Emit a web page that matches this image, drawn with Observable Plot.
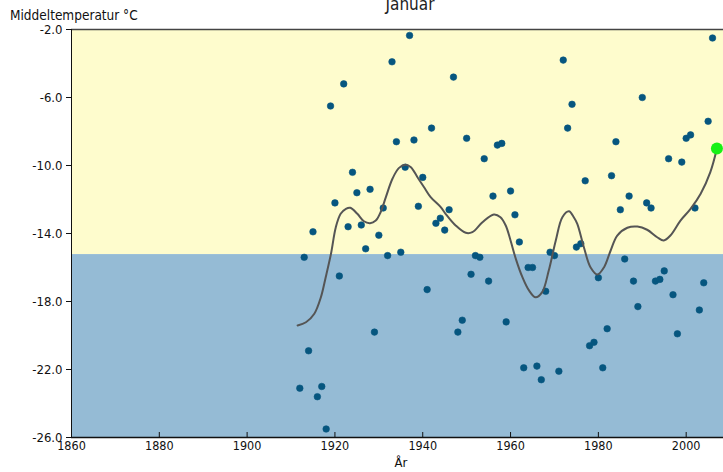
<!DOCTYPE html>
<html>
<head>
<meta charset="utf-8">
<script src="https://cdn.jsdelivr.net/npm/d3@7"></script>
<script src="https://cdn.jsdelivr.net/npm/@observablehq/plot@0.6"></script>
<style>
  html, body { margin: 0; padding: 0; background: #fff; }
  #wrap { position: relative; width: 723px; height: 472px; overflow: hidden; font-family: "DejaVu Sans Condensed", "DejaVu Sans", sans-serif; }
  #title { position: absolute; left: 0; width: 820px; text-align: center; top: -6px; font-size: 17px; color: #222; }
  #ylab { position: absolute; left: 10px; top: 7px; font-size: 13.5px; color: #111; }
  #xlab { position: absolute; left: 0; width: 802px; text-align: center; top: 455px; font-size: 13px; color: #111; }
  #chart { position: absolute; left: 0; top: 0; }
</style>
</head>
<body>
<div id="wrap">
  <div id="chart"></div>
  <div id="title">Januar</div>
  <div id="ylab">Middeltemperatur °C</div>
  <div id="xlab">År</div>
</div>
<script>
// Observed January mean temperatures
const years = [1912,1913,1914,1915,1916,1917,1918,1919,1920,1921,1922,1923,1924,1925,1926,1927,1928,1929,1930,1931,1932,1933,1934,1935,1936,1937,1938,1939,1940,1941,1942,1943,1944,1945,1946,1947,1948,1949,1950,1951,1952,1953,1954,1955,1956,1957,1958,1959,1960,1961,1962,1963,1964,1965,1966,1967,1968,1969,1970,1971,1972,1973,1974,1975,1976,1977,1978,1979,1980,1981,1982,1983,1984,1985,1986,1987,1988,1989,1990,1991,1992,1993,1994,1995,1996,1997,1998,1999,2000,2001,2002,2003,2004,2005,2006];
const temps = [-23.1,-15.4,-20.9,-13.9,-23.6,-23.0,-25.5,-6.5,-12.2,-16.5,-5.2,-13.6,-10.4,-11.6,-13.5,-14.9,-11.4,-19.8,-14.1,-12.5,-15.3,-3.9,-8.6,-15.1,-10.1,-2.35,-8.5,-12.4,-10.7,-17.3,-7.8,-13.4,-13.1,-13.8,-12.6,-4.8,-19.8,-19.1,-8.4,-16.4,-15.3,-15.4,-9.6,-16.8,-11.8,-8.8,-8.7,-19.2,-11.5,-12.9,-14.5,-21.9,-16.0,-16.0,-21.8,-22.6,-17.4,-15.1,-15.3,-22.1,-3.8,-7.8,-6.4,-14.8,-14.6,-10.9,-20.6,-20.4,-16.6,-21.9,-19.6,-10.6,-8.6,-12.6,-15.5,-11.8,-16.8,-18.3,-6.0,-12.2,-12.5,-16.8,-16.7,-16.2,-9.6,-17.6,-19.9,-9.8,-8.4,-8.2,-12.5,-18.5,-16.9,-7.4,-2.5];

// Smoothed curve
const smoothYears = [1911.5,1913.4,1915.3,1916.8,1917.9,1919.1,1920.2,1921.3,1922.5,1923.5,1925.1,1926.6,1928.0,1929.3,1930.4,1931.6,1933.1,1934.6,1936.1,1937.3,1938.8,1940.3,1941.8,1944.1,1945.2,1947.5,1949.8,1951.3,1953.6,1956.2,1957.7,1958.9,1960.0,1961.2,1962.7,1964.2,1965.7,1967.2,1968.7,1970.3,1971.8,1973.3,1974.4,1975.2,1976.7,1978.2,1979.8,1981.3,1982.8,1984.3,1986.6,1988.9,1991.1,1993.4,1994.9,1996.4,1998.7,2001.0,2003.3,2005.5,2007.0];
const smoothTemps = [-19.41,-19.22,-18.72,-17.75,-16.57,-15.19,-13.63,-12.84,-12.55,-12.49,-12.84,-13.28,-13.39,-13.24,-12.75,-11.86,-10.78,-10.14,-9.96,-10.10,-10.69,-11.28,-11.86,-12.45,-12.84,-13.53,-13.96,-13.92,-13.34,-12.88,-13.04,-13.53,-14.41,-15.49,-16.57,-17.35,-17.75,-17.45,-16.18,-14.41,-13.04,-12.69,-13.04,-13.43,-14.81,-15.98,-16.41,-15.98,-15.0,-14.12,-13.66,-13.59,-13.78,-14.22,-14.41,-14.12,-13.24,-12.55,-11.66,-10.39,-9.0];

// Latest value highlight
const latestYear = [2007];
const latestTemp = [-9.0];

// Reference level separating the two background bands
const normalLevel = [-15.24];

// Axis settings
const xDomain = [1860, 2008.5];
const yDomain = [-26, -2];
const xTicks = [1860, 1880, 1900, 1920, 1940, 1960, 1980, 2000];
const yTicks = [-26, -22, -18, -14, -10, -6, -2];

const obs = years.map((y, i) => ({year: y, temp: temps[i]}));
const smooth = smoothYears.map((y, i) => ({year: y, temp: smoothTemps[i]}));
const latest = latestYear.map((y, i) => ({year: y, temp: latestTemp[i]}));
const bands = [
  {x1: xDomain[0], x2: xDomain[1], y1: normalLevel[0], y2: yDomain[1], fill: "#fefccd"},
  {x1: xDomain[0], x2: xDomain[1], y1: yDomain[0], y2: normalLevel[0], fill: "#95bbd5"}
];

const chart = Plot.plot({
  width: 723,
  height: 472,
  marginTop: 29,
  marginBottom: 35,
  marginLeft: 71,
  marginRight: 0,
  style: {fontFamily: "'DejaVu Sans Condensed', 'DejaVu Sans', sans-serif", fontSize: "12px", color: "#111", background: "transparent"},
  x: {domain: xDomain, ticks: xTicks, tickFormat: d => String(d), label: null},
  y: {domain: yDomain, ticks: yTicks, tickFormat: d => d.toFixed(1), label: null},
  marks: [
    Plot.rect(bands, {x1: "x1", x2: "x2", y1: "y1", y2: "y2", fill: "fill"}),
    Plot.ruleY([yDomain[1]], {stroke: "#444", strokeWidth: 1.5}),
    Plot.ruleY([yDomain[0]], {stroke: "#111", strokeWidth: 1.5}),
    Plot.ruleX([xDomain[0]], {stroke: "#111", strokeWidth: 1}),
    Plot.axisX({ticks: xTicks, tickFormat: d => String(d), tickSize: -5, tickPadding: 9, label: null, stroke: "#111", fontSize: 12.5}),
    Plot.axisY({ticks: yTicks, tickFormat: d => d.toFixed(1), tickSize: 5, tickPadding: 4, label: null, fontSize: 13}),
    Plot.dot(obs, {x: "year", y: "temp", r: 3.3, fill: "#06567f", stroke: "#06567f", strokeWidth: 0.6}),
    Plot.line(smooth, {x: "year", y: "temp", curve: "catmull-rom", stroke: "#555", strokeWidth: 2}),
    Plot.dot(latest, {x: "year", y: "temp", r: 6, fill: "#16f116"})
  ]
});
document.getElementById("chart").appendChild(chart);
</script>
</body>
</html>
